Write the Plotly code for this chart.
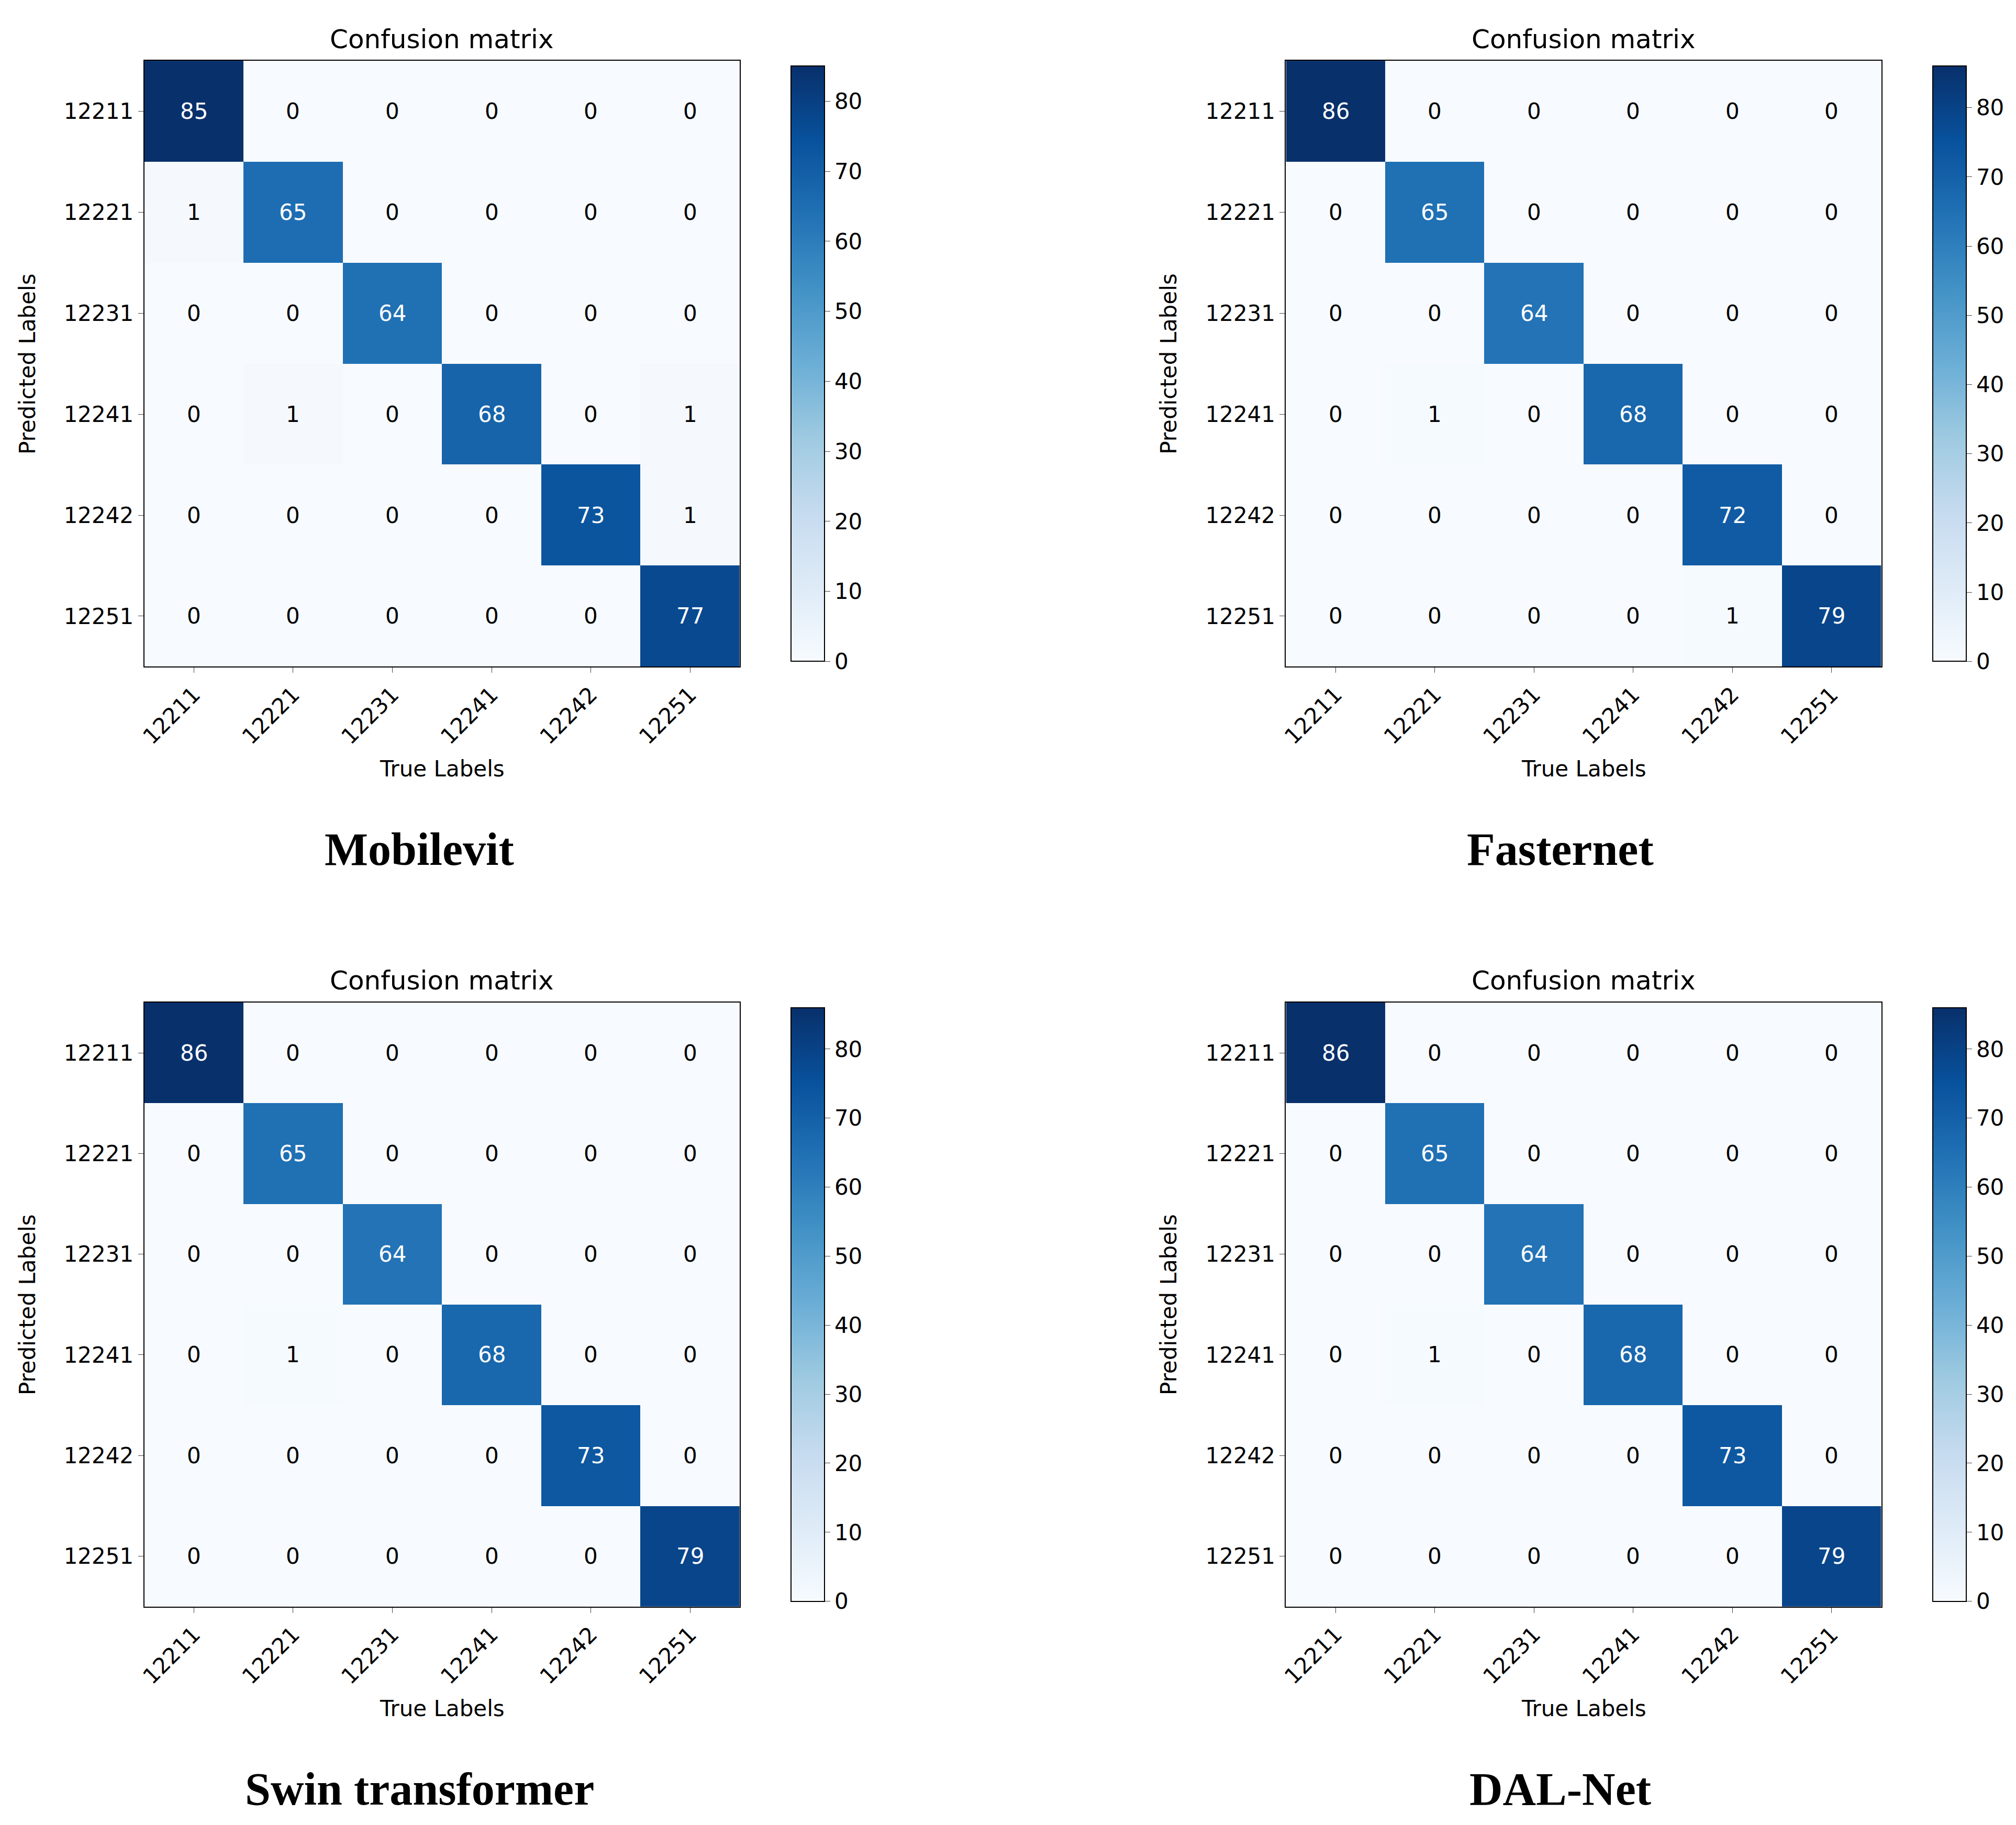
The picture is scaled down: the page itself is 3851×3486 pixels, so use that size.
import plotly.graph_objects as go

labels = ["12211", "12221", "12231", "12241", "12242", "12251"]
names = ["Mobilevit", "Fasternet", "Swin transformer", "DAL-Net"]
m_mobilevit = [[85,0,0,0,0,0],[1,65,0,0,0,0],[0,0,64,0,0,0],[0,1,0,68,0,1],[0,0,0,0,73,1],[0,0,0,0,0,77]]
m_fasternet = [[86,0,0,0,0,0],[0,65,0,0,0,0],[0,0,64,0,0,0],[0,1,0,68,0,0],[0,0,0,0,72,0],[0,0,0,0,1,79]]
m_swin = [[86,0,0,0,0,0],[0,65,0,0,0,0],[0,0,64,0,0,0],[0,1,0,68,0,0],[0,0,0,0,73,0],[0,0,0,0,0,79]]
m_dal = [[86,0,0,0,0,0],[0,65,0,0,0,0],[0,0,64,0,0,0],[0,1,0,68,0,0],[0,0,0,0,73,0],[0,0,0,0,0,79]]
mats = [m_mobilevit, m_fasternet, m_swin, m_dal]

blues = [[0.0,"#f7fbff"],[0.125,"#deebf7"],[0.25,"#c6dbef"],[0.375,"#9ecae1"],[0.5,"#6baed6"],
         [0.625,"#4292c6"],[0.75,"#2171b5"],[0.875,"#08519c"],[1.0,"#08306b"]]

xd = [(0.0695,0.3648),(0.6358,0.9311)]
cbx = [0.3878,0.9540]
yd = [(0.637,0.969),(0.122,0.453)]
idx = list(range(len(labels)))

fig = go.Figure()
ann = []
tickf = dict(family="DejaVu Sans", size=42, color="black")
layout_axes = {}
for i, m in enumerate(mats):
    c, r = i % 2, i // 2
    k = i + 1
    xa, ya = ("x" if k == 1 else f"x{k}"), ("y" if k == 1 else f"y{k}")
    mx = max(max(row) for row in m)
    fig.add_trace(go.Heatmap(z=m, x=idx, y=idx, xaxis=xa, yaxis=ya, colorscale=blues,
        zmin=0, zmax=mx, hoverinfo="skip",
        colorbar=dict(x=cbx[c], xanchor="left", y=yd[r][0], yanchor="bottom",
                      len=yd[r][1]-yd[r][0], lenmode="fraction", thickness=64,
                      tickvals=list(range(0,81,10)), ticks="outside", ticklen=10,
                      tickfont=tickf, outlinewidth=2, outlinecolor="black")))
    axn = "" if k == 1 else str(k)
    layout_axes[f"xaxis{axn}"] = dict(domain=xd[c], anchor=ya, tickangle=-45, showline=True,
        mirror=True, linecolor="black", linewidth=2, ticks="outside", ticklen=10,
        tickvals=idx, ticktext=labels, range=[-0.5, 5.5],
        tickfont=tickf, showgrid=False, zeroline=False)
    layout_axes[f"yaxis{axn}"] = dict(domain=yd[r], anchor=xa, range=[5.5, -0.5], showline=True,
        mirror=True, linecolor="black", linewidth=2, ticks="outside", ticklen=10,
        tickvals=idx, ticktext=labels,
        tickfont=tickf, showgrid=False, zeroline=False)
    for ri, row in enumerate(m):
        for ci, v in enumerate(row):
            ann.append(dict(x=ci, y=ri, xref=xa, yref=ya, text=str(v), showarrow=False,
                            font=dict(family="DejaVu Sans", size=42, color="white" if v > mx/2 else "black")))
    xm = (xd[c][0]+xd[c][1])/2
    ann.append(dict(x=xm, y=yd[r][1]+0.003, xref="paper", yref="paper", xanchor="center", yanchor="bottom",
                    showarrow=False, text="Confusion matrix",
                    font=dict(family="DejaVu Sans", size=50, color="black")))
    ann.append(dict(x=xm, y=yd[r][0]-0.056, xref="paper", yref="paper", xanchor="center", yanchor="middle",
                    showarrow=False, text="True Labels", font=dict(family="DejaVu Sans", size=42, color="black")))
    ann.append(dict(x=xd[c][0]-0.058, y=(yd[r][0]+yd[r][1])/2, xref="paper", yref="paper", xanchor="center",
                    yanchor="middle", showarrow=False, textangle=-90, text="Predicted Labels",
                    font=dict(family="DejaVu Sans", size=42, color="black")))
    ann.append(dict(x=[0.206,0.772][c], y=yd[r][0]-0.1, xref="paper", yref="paper", xanchor="center",
                    yanchor="middle", showarrow=False, text=f"<b>{names[i]}</b>",
                    font=dict(family="Liberation Serif", size=88, color="black")))

fig.update_layout(width=3851, height=3486, margin=dict(l=0, r=0, t=0, b=0, autoexpand=False),
                  plot_bgcolor="white", paper_bgcolor="white", annotations=ann, showlegend=False,
                  **layout_axes)
fig.write_html("out.html")
